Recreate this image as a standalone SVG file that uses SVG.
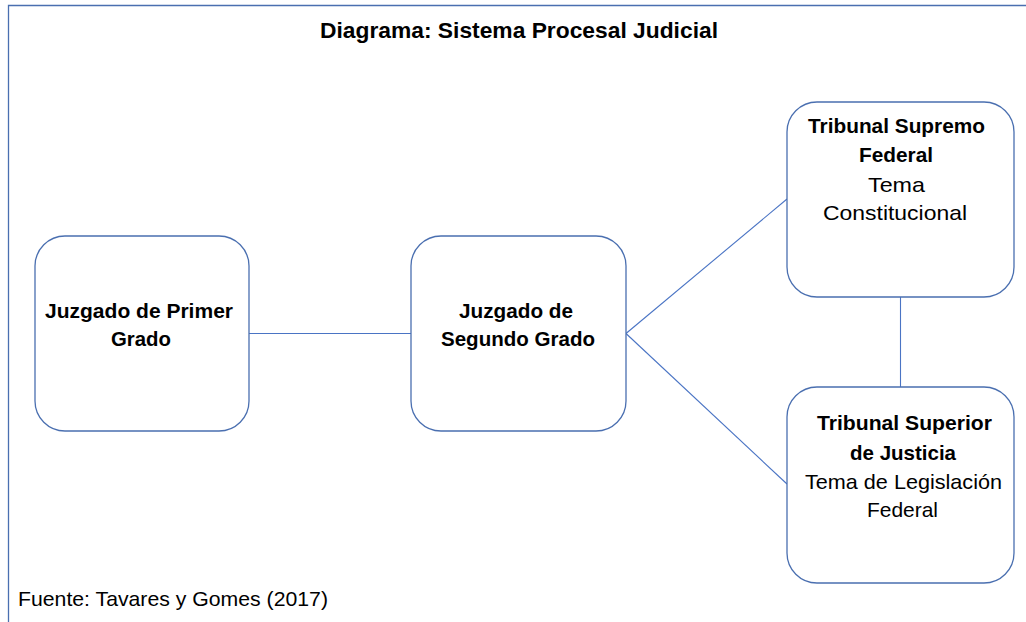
<svg xmlns="http://www.w3.org/2000/svg" width="1026" height="622" viewBox="0 0 1026 622">
<style>
.box{fill:#fff;stroke:#4a6fb0;stroke-width:1.3}
.ln{fill:none;stroke:#4a74c4;stroke-width:1.1}
text{font-family:"Liberation Sans",Arial,sans-serif;fill:#000;text-anchor:middle;font-size:21px}
.b{font-weight:bold}
</style>
<rect width="1026" height="622" fill="#fff"/>
<path d="M8.5,623 V5.5 H1027" fill="none" stroke="#4a6fb0" stroke-width="1.3"/>
<text class="b" x="519" y="38" style="font-size:22px" textLength="398" lengthAdjust="spacingAndGlyphs">Diagrama: Sistema Procesal Judicial</text>
<g id="connectors">
<line class="ln" x1="249" y1="333.5" x2="411" y2="333.5"/>
<line class="ln" x1="626" y1="333.5" x2="787" y2="199"/>
<line class="ln" x1="626" y1="333.5" x2="787" y2="484"/>
<line class="ln" x1="900.5" y1="297" x2="900.5" y2="387"/>
</g>
<g id="n1">
<rect class="box" x="35" y="236" width="214" height="195" rx="30"/>
<text class="b" x="139" y="318" textLength="188" lengthAdjust="spacingAndGlyphs">Juzgado de Primer</text>
<text class="b" x="141" y="346" textLength="60" lengthAdjust="spacingAndGlyphs">Grado</text>
</g>
<g id="n2">
<rect class="box" x="411" y="236" width="215" height="195" rx="30"/>
<text class="b" x="516" y="318" textLength="114" lengthAdjust="spacingAndGlyphs">Juzgado de</text>
<text class="b" x="518" y="346" textLength="154" lengthAdjust="spacingAndGlyphs">Segundo Grado</text>
</g>
<g id="n3">
<rect class="box" x="787" y="102" width="227" height="195" rx="30"/>
<text class="b" x="896.5" y="133" textLength="177" lengthAdjust="spacingAndGlyphs">Tribunal Supremo</text>
<text class="b" x="896" y="162" textLength="74" lengthAdjust="spacingAndGlyphs">Federal</text>
<text x="896.5" y="192" textLength="57" lengthAdjust="spacingAndGlyphs">Tema</text>
<text x="895" y="220" textLength="144" lengthAdjust="spacingAndGlyphs">Constitucional</text>
</g>
<g id="n4">
<rect class="box" x="787" y="387" width="227" height="196" rx="30"/>
<text class="b" x="904.5" y="430" textLength="175" lengthAdjust="spacingAndGlyphs">Tribunal Superior</text>
<text class="b" x="903" y="460" textLength="106" lengthAdjust="spacingAndGlyphs">de Justicia</text>
<text x="903.5" y="489" textLength="197" lengthAdjust="spacingAndGlyphs">Tema de Legislación</text>
<text x="902.5" y="517" textLength="71" lengthAdjust="spacingAndGlyphs">Federal</text>
</g>
<text x="18" y="606" style="text-anchor:start" textLength="310" lengthAdjust="spacingAndGlyphs">Fuente: Tavares y Gomes (2017)</text>
</svg>
